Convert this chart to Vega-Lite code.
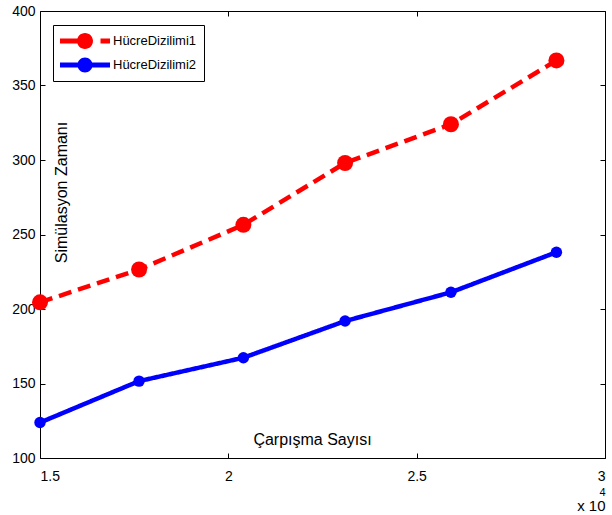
{
  "$schema": "https://vega.github.io/schema/vega-lite/v6.json",
  "width": 565,
  "height": 447,
  "autosize": {"type": "none"},
  "padding": {"left": 40, "top": 11, "right": 7, "bottom": 57},
  "background": "white",
  "config": {
    "view": {"stroke": "#000", "strokeWidth": 1},
    "font": "Liberation Sans",
    "axis": {"grid": false, "domain": false, "tickColor": "#000", "labelColor": "#000", "titleColor": "#000", "labelFont": "Liberation Sans", "labelFontSize": 14, "titleFont": "Liberation Sans", "titleFontWeight": "normal", "titleFontSize": 16}
  },
  "title": {"text": "4", "subtitle": "x 10\u00a0\u00a0", "orient": "bottom", "anchor": "end", "fontSize": 11, "subtitleFontSize": 15, "fontWeight": "normal", "font": "Liberation Sans", "subtitleFont": "Liberation Sans", "color": "#000", "subtitleColor": "#000", "offset": 4, "subtitlePadding": 1},
  "data": {
    "values": [
      {"series": "HücreDizilimi1", "collisions": 15000, "time": 204.5},
      {"series": "HücreDizilimi1", "collisions": 17630, "time": 226.5},
      {"series": "HücreDizilimi1", "collisions": 20400, "time": 256.5},
      {"series": "HücreDizilimi1", "collisions": 23100, "time": 298},
      {"series": "HücreDizilimi1", "collisions": 25910, "time": 324},
      {"series": "HücreDizilimi1", "collisions": 28710, "time": 366.8},
      {"series": "HücreDizilimi2", "collisions": 15000, "time": 123.8},
      {"series": "HücreDizilimi2", "collisions": 17630, "time": 151.6},
      {"series": "HücreDizilimi2", "collisions": 20400, "time": 167.3},
      {"series": "HücreDizilimi2", "collisions": 23100, "time": 191.9},
      {"series": "HücreDizilimi2", "collisions": 25910, "time": 211.2},
      {"series": "HücreDizilimi2", "collisions": 28710, "time": 238.1}
    ]
  },
  "layer": [
    {
      "mark": {"type": "line", "strokeWidth": 4.5},
      "encoding": {
        "x": {"field": "collisions", "type": "quantitative", "scale": {"domain": [15000, 30000], "nice": false, "zero": false},
          "axis": {"orient": "bottom", "values": [15000, 20000, 25000, 30000], "labelExpr": "datum.value / 10000", "tickSize": -5, "labelPadding": 16, "title": "Çarpışma Sayısı", "titleX": 272, "titleY": -19, "titleBaseline": "middle"}},
        "y": {"field": "time", "type": "quantitative", "scale": {"domain": [100, 400], "nice": false, "zero": false},
          "axis": {"orient": "left", "values": [100, 150, 200, 250, 300, 350, 400], "tickSize": -5, "labelPadding": 10, "title": "Simülasyon Zamanı", "titleX": 21, "titleY": 181, "titleBaseline": "middle", "titleAngle": 270}},
        "color": {"field": "series", "type": "nominal", "scale": {"domain": ["HücreDizilimi1", "HücreDizilimi2"], "range": ["#ff0000", "#0000ff"]}},
        "strokeDash": {"field": "series", "type": "nominal", "scale": {"domain": ["HücreDizilimi1", "HücreDizilimi2"], "range": [[13, 7], [1, 0]]}, "legend": null}
      }
    },
    {
      "transform": [{"filter": "datum.series === 'HücreDizilimi1'"}],
      "mark": {"type": "point", "filled": true, "opacity": 1, "size": 256},
      "encoding": {
        "x": {"field": "collisions", "type": "quantitative",
          "axis": {"orient": "top", "values": [15000, 20000, 25000, 30000], "labels": false, "tickSize": -5, "title": null}},
        "y": {"field": "time", "type": "quantitative",
          "axis": {"orient": "right", "values": [100, 150, 200, 250, 300, 350, 400], "labels": false, "tickSize": -5, "title": null}},
        "color": {"field": "series", "type": "nominal",
          "legend": {"title": null, "orient": "none", "legendX": 13, "legendY": 14, "strokeColor": "#000", "fillColor": "#fff", "padding": 7, "symbolSize": 2500, "clipHeight": 18, "rowPadding": 6, "labelOffset": 3, "labelFontSize": 13, "labelFont": "Liberation Sans", "labelColor": "#000", "symbolStrokeWidth": 0,
            "symbolType": "M-1,-0.1L1,-0.1L1,0.1L-1,0.1Z M-0.3,0A0.3,0.3,0,1,1,0.3,0A0.3,0.3,0,1,1,-0.3,0Z",
            "encode": {"symbols": {
              "fill": {"value": {"expr": "datum.value === 'HücreDizilimi1' ? '#ff0000' : '#0000ff'"}},
              "size": {"value": 2500},
              "strokeWidth": {"value": 0},
              "opacity": {"value": 1}
            }}}}
      }
    },
    {
      "transform": [{"filter": "datum.series === 'HücreDizilimi2'"}],
      "mark": {"type": "point", "filled": true, "opacity": 1, "size": 130},
      "encoding": {
        "x": {"field": "collisions", "type": "quantitative", "axis": null},
        "y": {"field": "time", "type": "quantitative", "axis": null},
        "color": {"field": "series", "type": "nominal"}
      }
    },
    {
      "mark": {"type": "point", "filled": true, "opacity": 0, "size": 4},
      "encoding": {
        "x": {"field": "collisions", "type": "quantitative", "axis": null},
        "y": {"field": "time", "type": "quantitative", "axis": null},
        "shape": {"field": "series", "type": "nominal", "scale": {"domain": ["HücreDizilimi1", "HücreDizilimi2"], "range": ["M-1,-0.1L-0.3,-0.1L-0.3,0.1L-1,0.1Z M0.62,-0.1L1,-0.1L1,0.1L0.62,0.1Z M-0.32,0A0.32,0.32,0,1,1,0.32,0A0.32,0.32,0,1,1,-0.32,0Z", "M-1,-0.1L1,-0.1L1,0.1L-1,0.1Z M-0.3,0A0.3,0.3,0,1,1,0.3,0A0.3,0.3,0,1,1,-0.3,0Z"]}}
      }
    }
  ],
  "resolve": {"axis": {"x": "independent", "y": "independent"}}
}
